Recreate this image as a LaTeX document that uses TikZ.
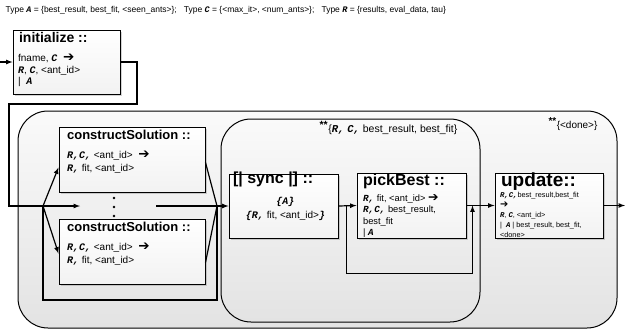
\documentclass[tikz,border=0pt]{standalone}
\usepackage{fontspec}
\setmainfont{Liberation Sans}
\setmonofont{Liberation Mono}
\newfontfamily\symfont{DejaVu Sans}
\usepackage{tikz}
\usetikzlibrary{arrows,positioning,calc,shadows}
\newcommand{\tA}{{\ttfamily\bfseries\itshape A}}
\newcommand{\tC}{{\ttfamily\bfseries\itshape C}}
\newcommand{\tR}{{\ttfamily\bfseries\itshape R}}
\newcommand{\tcm}{{\ttfamily\bfseries\itshape ,}}
\newcommand{\larr}{\scalebox{1.35}{\symfont\bfseries ➔}}
\tikzstyle{region}=[draw,line width=1pt,rounded corners=30pt,top color=gray!4,bottom color=gray!22]
\tikzstyle{procbox}=[draw,line width=1pt,top color=white,bottom color=gray!10,inner sep=0pt,
  drop shadow={opacity=0.35,shadow xshift=1.5pt,shadow yshift=-1.5pt}]
\tikzstyle{boxtitle}=[anchor=north west,inner sep=0pt,font=\fontsize{16}{16}\selectfont\bfseries]
\tikzstyle{boxbody}=[anchor=north west,inner sep=0pt,align=left,font=\fontsize{10}{13}\selectfont]
\tikzstyle{dot}=[fill,circle,inner sep=0pt,minimum size=2.6pt]

\begin{document}
\begin{tikzpicture}[x=1pt,y=-1pt,line width=1.2pt,>=latex]
    \useasboundingbox (0,0) rectangle (625,333);
    \node [anchor=west,inner sep=0pt,font=\fontsize{8.5}{10}\selectfont] (types) at (5,10)
      {Type \tA{} = \{best\_result, best\_fit, <seen\_ants>\};\ \ \ Type \tC{} = \{<max\_it>, <num\_ants>\};\ \ \ Type \tR{} = \{results, eval\_data, tau\}};

    % regions
    \node [region,minimum width=599pt,minimum height=217pt] (outer) at (317.5,219.5) {};
    \node [region,minimum width=259pt,minimum height=203pt] (inner) at (350.5,220.5) {};
    \node [anchor=north east,inner sep=0pt,font=\fontsize{10}{10}\selectfont] (donelbl) at (598,117)
      {$^{\textbf{**}}$\{<done>\}};
    \node [anchor=north east,inner sep=0pt,font=\fontsize{10.5}{10}\selectfont] (syncst) at (458,121)
      {$^{\textbf{**}}$\{\tR\tcm{} \tC\tcm{} best\_result, best\_fit\}};

    % boxes
    \node [procbox,minimum width=107pt,minimum height=64pt] (init) at (66.5,62) {};
    \node [boxtitle,font=\fontsize{14}{14}\selectfont\bfseries] at ($(init.north west)+(6,2)$) {initialize ::};
    \node [boxbody,font=\fontsize{10}{11.5}\selectfont] at ($(init.north west)+(5,24)$) {fname, \tC{} \ \larr\\ \tR, \tC, <ant\_id>\\ | \ \tA};

    \node [procbox,minimum width=146pt,minimum height=65pt] (topcs) at (132,159.5) {};
    \node [boxtitle,font=\fontsize{13}{13}\selectfont\bfseries] at ($(topcs.north west)+(8,3)$) {constructSolution ::};
    \node [boxbody] at ($(topcs.north west)+(8,24)$) {\tR\tcm\tC\tcm{} <ant\_id> \ \larr\\ \tR\tcm{} fit, <ant\_id>};

    \node [procbox,minimum width=146pt,minimum height=65pt] (botcs) at (132,251.5) {};
    \node [boxtitle,font=\fontsize{13}{13}\selectfont\bfseries] at ($(botcs.north west)+(8,3)$) {constructSolution ::};
    \node [boxbody] at ($(botcs.north west)+(8,24)$) {\tR\tcm\tC\tcm{} <ant\_id> \ \larr\\ \tR\tcm{} fit, <ant\_id>};

    \node [procbox,minimum width=109pt,minimum height=64pt] (sync) at (283.5,206) {};
    \node [boxtitle] at ($(sync.north west)+(4,-2)$) {[| sync |] ::};
    \node [boxbody,anchor=north,align=center,font=\fontsize{10}{14}\selectfont] at ($(sync.north)+(2,23)$)
      {{\ttfamily\bfseries\itshape\{A\}}\\ {\ttfamily\bfseries\itshape\{R,} fit, <ant\_id>{\ttfamily\bfseries\itshape\}}};

    \node [procbox,minimum width=109pt,minimum height=65pt] (pick) at (411.5,205.5) {};
    \node [boxtitle] at ($(pick.north west)+(6,1)$) {pickBest ::};
    \node [boxbody,font=\fontsize{9.3}{11.5}\selectfont] at ($(pick.north west)+(6,21)$)
      {\tR\tcm{} fit, <ant\_id> \larr\\ \tR\tcm\tC\tcm{} best\_result,\\ best\_fit\\ | \tA};

    \node [procbox,minimum width=108pt,minimum height=65pt] (update) at (549,205.5) {};
    \node [boxtitle,font=\fontsize{19}{19}\selectfont\bfseries] at ($(update.north west)+(6,0)$) {update::};
    \node [boxbody,font=\fontsize{7.3}{10}\selectfont] at ($(update.north west)+(5,19)$)
      {\tR\tcm\tC\tcm best\_result,best\_fit\\ \larr\\ \tR, \tC, <ant\_id>\\ | \ \tA \ | best\_result, best\_fit,\\ <done>};

    \node [dot] (dota) at (114,198) {};
    \node [dot] (dotb) at (114,207) {};
    \node [dot] (dotc) at (114,216) {};

    % connectors
    \coordinate (entry) at (0,62);
    \coordinate (fork) at (43,206);
    \coordinate (join) at (217,206);
    \coordinate (gapl) at (80,206);
    \coordinate (gapr) at (156,206);
    \coordinate (exit) at (625,205.5);
    \draw [->] (entry) -- (init.west);
    \draw (init.east) -| (137,104) -| (9,206) -- (fork);
    \draw [->] (fork) -- (gapl);
    \draw [->] (fork) -- ($(topcs.west)+(0,8)$);
    \draw [->] (fork) -- ($(botcs.west)+(0,2)$);
    \draw (fork) -- ++(0,94) -| (join);
    \draw ($(topcs.east)+(0,3)$) -- (join) -- ($(botcs.east)+(0,11)$);
    \draw [->] (gapr) -- (sync.west);
    \draw [->] (sync.east) -- (pick.west);
    \draw [->] ($(sync.east)+(8,0)$) -- ++(0,67.5) -| ($(pick.east)+(6,0)$);
    \draw [->] (pick.east) -- (update.west);
    \draw [->] (update.east) -- (exit);
\end{tikzpicture}
\end{document}
